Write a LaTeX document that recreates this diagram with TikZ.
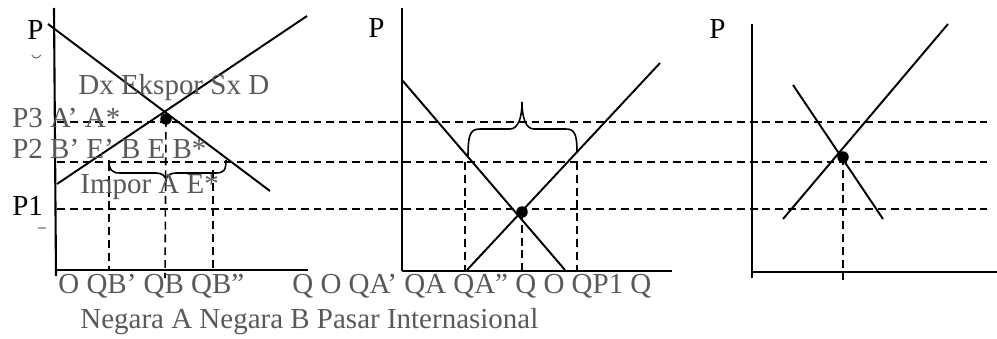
\documentclass[tikz,border=0pt]{standalone}
\usepackage{fontspec}
\setmainfont{Liberation Serif}
\usetikzlibrary{positioning}

\begin{document}
\begin{tikzpicture}[
  x=0.02cm, y=-0.02cm,
  font=\fontsize{16.5}{18}\selectfont,
  axis/.style={line width=1.2pt},
  curve/.style={line width=1.1pt},
  guide/.style={dash pattern=on 4.5pt off 2.8pt, line width=0.9pt},
  brc/.style={line width=0.9pt},
  lbl/.style={anchor=base west, inner sep=0pt, text=black!65},
  plbl/.style={anchor=base west, inner sep=0pt},
  eqdot/.style={fill=black, circle, inner sep=0pt, minimum size=0.23cm}
]
\useasboundingbox (0,0) rectangle (997,338);

% key points
\coordinate (eA) at (166,119);
\coordinate (eB) at (522,212);
\coordinate (eC) at (843,157);

% price levels across all panels
\draw[guide] (57,122) -- (987,122);
\draw[guide] (57,162) -- (987,162);
\draw[guide] (57,209) -- (987,209);

% Negara A
\draw[axis] (54,8) -- (56,276);
\draw[axis] (56,270) -- (308,270);
\draw[curve] (48,24) -- (270,191);
\draw[curve] (57,184) -- (307,16);
\draw[guide] (109,163) -- (109,270);
\draw[guide] (eA) -- (165,278);
\draw[guide] (213,170) -- (213,270);
\draw[brc] (109,160) .. controls (109,170) and (112,173) .. (120,173) -- (156,173)
  .. controls (162,173) and (166,176) .. (166,181)
  .. controls (166,176) and (170,173) .. (176,173) -- (216,173)
  .. controls (224,173) and (226,170) .. (226,160);
\node[eqdot] (dA) at (eA) {};

% Negara B
\draw[axis] (402,8) -- (402,271);
\draw[axis] (402,271) -- (672,271);
\draw[curve] (402,80) -- (565,270);
\draw[curve] (467,270) -- (660,63);
\draw[guide] (465,162) -- (465,270);
\draw[guide] (eB) -- (522,270);
\draw[guide] (577,162) -- (577,270);
\draw[brc] (468,157) .. controls (468,135) and (470,129) .. (480,129) -- (510,129)
  .. controls (518,129) and (522,118) .. (522,102)
  .. controls (522,118) and (526,129) .. (534,129) -- (566,129)
  .. controls (575,129) and (577,135) .. (577,153);
\node[eqdot] (dB) at (eB) {};

% Pasar Internasional
\draw[axis] (752,24) -- (752,278);
\draw[axis] (752,272) -- (997,272);
\draw[curve] (783,219) -- (948,24);
\draw[curve] (793,85) -- (883,219);
\draw[guide] (eC) -- (843,280);
\node[eqdot] (dC) at (eC) {};

% small marks
\draw[black!55, line width=0.6pt] (32,55) .. controls (34,59) and (38,59) .. (41,55);
\draw[black!35, line width=0.6pt] (38,228) -- (46,228);

% labels
\node[plbl] (pA) at (27,39) {P};
\node[plbl] (pB) at (368,37) {P};
\node[plbl] (pC) at (709,38) {P};
\node[lbl] (dxsx) at (78,94) {Dx Ekspor Sx D};
\node[lbl] (p3) at (12,127) {P3 A’ A*};
\node[lbl] (p2) at (12,158) {P2 B’ E’ B E B*};
\node[lbl] (impor) at (80,193) {Impor A E*};
\node[plbl] (p1) at (12,215) {P1};
\node[lbl] (qA) at (58,293) {O QB’ QB QB”};
\node[lbl] (qB) at (292,293) {Q O QA’ QA QA” Q O QP1 Q};
\node[lbl] (negara) at (80,328) {Negara A Negara B Pasar Internasional};
\end{tikzpicture}
\end{document}
